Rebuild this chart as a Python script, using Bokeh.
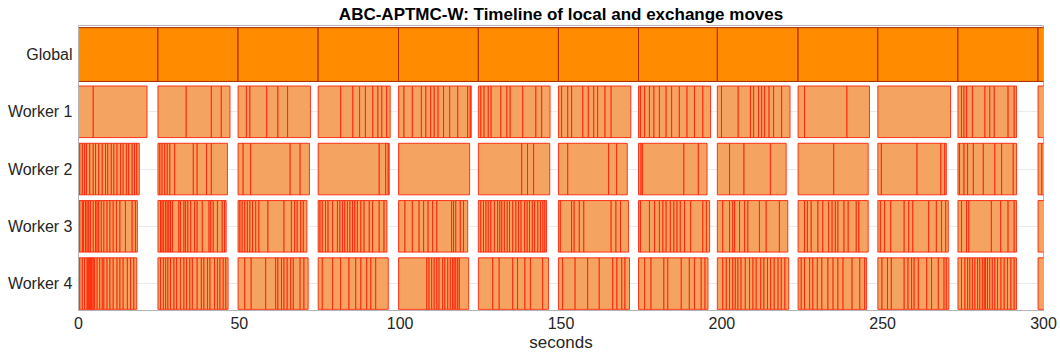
from bokeh.plotting import figure
from bokeh.models import Range1d, FixedTicker, LinearAxis
from bokeh.embed import file_html
from bokeh.resources import INLINE

# ---------------- data (seconds) ----------------
row_labels = ["Global", "Worker 1", "Worker 2", "Worker 3", "Worker 4"]
x_ticks = [0, 50, 100, 150, 200, 250, 300]

# exchange (global) move times
exchange_times = [0, 24.7, 49.6, 74.5, 99.5, 124.3, 149.2, 174.1, 198.6,
                  223.7, 248.5, 273.4, 298.3]
global_end = 301.5

# end of local activity of each worker in every exchange period
w1_ends = [21.3, 47.1, 72.1, 96.9, 122.1, 146.6, 171.7, 196.5, 221.2, 245.9, 271.1, 291.6, 301.5]
w2_ends = [18.9, 46.3, 71.8, 96.6, 121.6, 146.5, 170.6, 195.4, 220.0, 245.5, 269.8, 291.6, 301.5]
w3_ends = [18.3, 45.9, 71.0, 95.9, 121.0, 145.5, 171.0, 196.2, 220.5, 245.5, 270.4, 291.6, 301.5]
w4_ends = [18.1, 46.5, 71.4, 96.3, 121.3, 146.1, 171.3, 195.7, 220.8, 245.0, 270.6, 291.6, 301.5]

# local move times of each worker
w1_moves = [4.6,
            33.5, 41.3, 44.4,
            52.2, 53.3, 58.5, 62.0, 65.0,
            81.5, 85.3, 87.4, 89.2, 91.5, 93.1, 94.3, 95.8,
            101.2, 103.8, 106.6, 108.0, 109.5, 110.6, 111.8, 113.5, 115.4, 117.9, 121.0, 121.8,
            125.1, 126.1, 127.4, 128.3, 131.3, 133.2, 134.2, 138.1, 142.2, 144.0,
            150.2, 152.1, 153.3, 156.8, 158.5, 160.2, 161.4, 163.7, 165.6,
            174.7, 176.0, 177.5, 178.9, 180.6, 182.7, 184.4, 186.8, 189.2, 191.5, 194.1,
            199.9, 205.1, 208.9, 209.9, 211.4, 212.4, 213.3, 214.7, 216.1, 218.6,
            225.7, 238.9,
            274.5, 275.3, 276.1, 277.9, 281.8, 283.3, 284.7, 289.0, 290.9]

w2_moves = [0.4, 1.2, 1.9, 2.5, 3.5, 4.6, 5.3, 6.3, 7.4, 8.4, 9.1, 10.2, 11.0, 12.0,
            13.1, 13.9, 14.9, 15.6, 16.7, 17.4, 18.1,
            25.3, 26.0, 26.8, 27.6, 28.4, 29.9, 35.7, 36.9, 39.8, 41.3,
            51.2, 53.5, 65.8, 68.9,
            93.5, 95.5, 96.3,
            137.8, 139.6, 141.5,
            152.1, 164.8, 167.3,
            174.9, 175.3, 188.2, 192.7,
            202.4, 206.9, 215.1,
            234.8,
            249.6, 260.7, 268.1, 269.3,
            273.9, 275.3, 276.4, 278.2, 281.3, 284.9, 287.0, 290.6,
            299.5]

w3_moves = [0.4, 1.2, 1.6, 2.2, 2.7, 3.2, 3.7, 4.6, 5.3, 5.8, 6.3, 7.1, 7.9, 8.9, 9.8,
            10.8, 11.8, 12.9, 14.6, 16.7, 17.7,
            25.5, 26.0, 26.5, 27.1, 27.6, 28.1, 28.6, 29.2, 31.2, 31.7, 32.8, 33.3, 34.0,
            34.9, 36.1, 36.9, 38.5, 40.6, 41.1, 41.9, 43.2, 44.7, 45.4,
            50.2, 50.9, 51.7, 52.5, 53.3, 54.1, 55.1, 56.1, 58.9, 63.9, 66.2, 67.2, 68.0,
            69.1, 69.9,
            75.1, 75.8, 76.8, 77.6, 79.0, 80.5, 81.3, 82.1, 82.8, 83.6, 84.4, 85.2, 85.9,
            86.7, 87.8, 88.8, 90.4, 91.4, 93.5, 95.0,
            101.5, 103.8, 105.9, 107.3, 108.7, 110.1, 111.4, 116.0, 116.6, 117.3, 118.7, 119.7,
            125.1, 125.9, 126.7, 127.4, 128.2, 129.3, 130.3, 131.0, 131.6, 132.4, 133.3,
            134.0, 135.0, 136.0, 136.8, 137.6, 138.7, 139.5, 140.2, 141.1, 141.8, 142.8,
            143.6, 144.4, 145.0,
            149.8, 153.3, 154.1, 155.7, 157.1, 165.6, 167.1, 168.5,
            174.7, 177.5, 179.1, 180.6, 181.7, 182.7, 184.0, 185.1, 186.1, 187.1, 188.4,
            190.3, 194.1, 195.2,
            200.3, 202.4, 203.4, 204.0, 205.5, 207.1, 208.1, 211.7, 213.8, 217.9,
            225.7, 226.6, 227.8, 229.9, 231.4, 233.2, 234.3, 235.3, 236.1, 238.0, 239.3,
            241.8, 242.6,
            249.3, 250.6, 252.5, 256.7, 258.1, 259.4, 264.3, 266.7, 268.3, 269.6,
            274.5, 276.1, 276.8, 283.8, 286.7, 289.0, 290.9]

w4_moves = [0.4, 1.2, 1.9, 2.7, 3.0, 3.3, 3.6, 3.9, 4.2, 4.6, 5.0, 5.8, 6.6, 7.4, 7.9,
            8.9, 9.8, 10.8, 12.0, 12.9, 13.9, 15.2, 16.2, 17.2,
            25.5, 26.4, 27.1, 27.8, 28.6, 29.7, 30.5, 31.7, 32.8, 33.6, 34.6, 35.4, 36.9,
            38.2, 39.0, 40.1, 40.9, 42.3, 43.2, 44.0, 45.0, 45.8,
            51.7, 53.7, 58.2, 61.3, 62.0, 63.1, 63.9, 64.9, 66.0, 66.8, 68.9, 70.1,
            75.8, 79.0, 81.5, 84.1, 86.2, 87.8, 89.6, 90.9, 92.4,
            108.3, 109.0, 109.8, 110.6, 111.4, 112.1, 113.2, 113.9, 114.8, 115.6, 116.3,
            116.8, 117.3, 117.9, 118.4,
            128.8, 130.8, 135.0, 136.5, 138.8, 140.5, 144.3,
            150.5, 154.4, 158.3, 161.9, 166.1, 167.4, 168.9, 169.9,
            176.0, 178.0, 182.0, 183.2, 187.4, 189.9, 191.5, 193.6, 194.8,
            200.3, 201.4, 202.4, 203.4, 204.2, 205.0, 206.0, 207.3, 208.6, 209.7, 210.7,
            212.1, 213.1, 214.2, 215.2, 216.3, 217.5, 218.5, 219.6,
            224.7, 225.7, 227.3, 228.3, 229.7, 231.1, 233.0, 234.6, 236.1, 237.7, 240.5,
            242.9, 244.4,
            249.8, 251.5, 252.7, 256.7, 257.9, 259.0, 259.8, 261.1, 263.7, 265.2, 267.3,
            269.1, 269.8,
            274.5, 275.6, 276.4, 277.1, 277.9, 278.7, 279.5, 280.2, 281.0, 281.6, 282.0,
            282.6, 283.3, 284.1, 284.9, 285.7, 286.8, 287.8, 288.8, 289.9, 290.9]

workers = [(1, w1_ends, w1_moves), (2, w2_ends, w2_moves),
           (3, w3_ends, w3_moves), (4, w4_ends, w4_moves)]

FONT = "Liberation Sans"
TXT = "#262626"
AX = "#b4b4b4"

p = figure(width=1060, height=356, output_backend="svg", toolbar_location=None,
           x_range=Range1d(0, 300), y_range=Range1d(4.47, -0.507),
           min_border_left=78, min_border_right=17, min_border_top=25,
           min_border_bottom=46, background_fill_color="white",
           border_fill_color="white")

# global row
g_left = exchange_times
g_right = exchange_times[1:] + [global_end]
p.quad(left=g_left, right=g_right, bottom=-0.47, top=0.47,
       fill_color="#ff8c00", line_color="#a82a00", line_width=1)

# worker rows
for row, ends, moves in workers:
    L, R = [], []
    for i, start in enumerate(exchange_times):
        end = ends[i]
        inner = [m for m in moves if start < m < end]
        b = [start] + inner + [end]
        L += b[:-1]
        R += b[1:]
    p.quad(left=L, right=R, bottom=row - 0.45, top=row + 0.45,
           fill_color="#f4a460", line_color="#ff1a00", line_alpha=0.85, line_width=1)

# axes
p.xaxis.ticker = FixedTicker(ticks=x_ticks)
p.xaxis.axis_label = "seconds"
p.yaxis.ticker = FixedTicker(ticks=[0, 1, 2, 3, 4])
p.yaxis.major_label_overrides = {i: lab for i, lab in enumerate(row_labels)}
for ax in (p.xaxis, p.yaxis):
    ax.axis_line_color = AX
    ax.major_tick_line_color = None
    ax.major_tick_out = 0
    ax.major_tick_in = 0
    ax.minor_tick_line_color = None
    ax.minor_tick_out = 0
    ax.major_label_text_font = FONT
    ax.major_label_text_font_size = "16px"
    ax.major_label_text_color = TXT
    ax.axis_label_text_font = FONT
    ax.axis_label_text_font_size = "17px"
    ax.axis_label_text_font_style = "normal"
    ax.axis_label_text_color = TXT
p.xaxis.major_label_standoff = 6
p.xaxis.axis_label_standoff = 1
p.yaxis.major_label_standoff = 6

right_ax = LinearAxis(ticker=FixedTicker(ticks=[0, 1, 2, 3, 4]),
                      major_label_overrides={i: "" for i in range(5)},
                      axis_line_color=AX, major_tick_line_color=AX,
                      major_tick_in=7, major_tick_out=0, minor_tick_out=0,
                      minor_tick_line_color=None, level="underlay")
p.add_layout(right_ax, "right")

p.xgrid.grid_line_color = None
p.ygrid.ticker = FixedTicker(ticks=[0, 1, 2, 3, 4])
p.ygrid.grid_line_color = "#ebebeb"
p.outline_line_color = AX

p.title.text = "ABC-APTMC-W: Timeline of local and exchange moves"
p.title.align = "center"
p.title.text_font = FONT
p.title.text_font_size = "17px"
p.title.text_font_style = "bold"
p.title.text_color = "#000000"
p.title.standoff = 3

open("out.html", "w").write(file_html(p, INLINE))
